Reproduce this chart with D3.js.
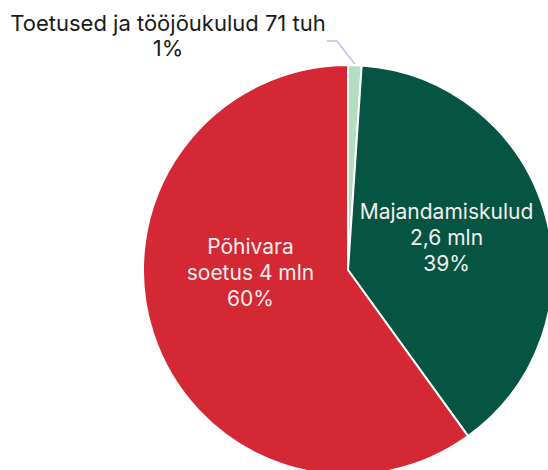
<!DOCTYPE html>
<html>
<head>
<meta charset="utf-8">
<script src="https://cdn.jsdelivr.net/npm/d3@7"></script>
<style>
  html, body { margin: 0; padding: 0; background: #fff; overflow: hidden; }
  svg { display: block; font-family: Inter, "Noto Sans", sans-serif; }
</style>
</head>
<body>
<script>
// chart data
var categories = ["Toetused ja tööjõukulud", "Majandamiskulud", "Põhivara soetus"];
var values = [0.071, 2.6, 4.0];            // mln eurot
var valueLabels = ["71 tuh", "2,6 mln", "4 mln"];
var percentLabels = ["1%", "39%", "60%"];
var colors = ["#b2dfbf", "#065543", "#d42834"];

// define width and height
var w = 548;
var h = 470;
var cx = 348, cy = 270;
var radius = 205;

var svg = d3.select("body")
            .append("svg")
            .attr("width", w)
            .attr("height", h);

var dataset = categories.map(function(c, i) {
    return { name: c, value: values[i], valueLabel: valueLabels[i], pct: percentLabels[i], color: colors[i] };
});

var pie = d3.pie()
            .sort(null)
            .value(function(d) { return d.value; });

var arc = d3.arc()
            .innerRadius(0)
            .outerRadius(radius);

var arcs = pie(dataset);

var g = svg.append("g")
           .attr("transform", "translate(" + cx + "," + cy + ")");

g.selectAll("path")
 .data(arcs)
 .enter()
 .append("path")
 .attr("d", arc)
 .attr("fill", function(d) { return d.data.color; })
 .attr("stroke", "#fff")
 .attr("stroke-width", 2)
 .attr("stroke-linejoin", "round");

// inside labels: text lines per slice
var insideLines = {
    1: [categories[1], valueLabels[1], percentLabels[1]],
    2: ["Põhivara", "soetus " + valueLabels[2], percentLabels[2]]
};
// label placement: radius fraction and nudges (layout only)
var labelArc = d3.arc().innerRadius(radius * 0.5).outerRadius(radius * 0.5);
var nudge = { 1: [0, -4], 2: [0, -29] };

var lineH = 26;
Object.keys(insideLines).forEach(function(k) {
    var a = arcs[k];
    var c = labelArc.centroid(a);
    var lines = insideLines[k];
    var t = g.append("text")
             .attr("text-anchor", "middle")
             .attr("fill", "#f3efec")
             .style("font-size", "21px");
    lines.forEach(function(l, i) {
        t.append("tspan")
         .attr("x", c[0] + nudge[k][0])
         .attr("y", c[1] + nudge[k][1] + (i - (lines.length - 1) / 2) * lineH)
         .attr("dy", "0.35em")
         .text(l);
    });
});

// outside label for the small slice with a leader line
var small = arcs[0];
var midA = (small.startAngle + small.endAngle) / 2;
var edge = [Math.sin(midA) * (radius + 1), -Math.cos(midA) * (radius + 1)];
var elbow = [edge[0] - 18, -radius - 24];
var lineEnd = [elbow[0] - 10, elbow[1]];

g.append("polyline")
 .attr("points", [edge, elbow, lineEnd].map(function(p) { return p.join(","); }).join(" "))
 .attr("fill", "none")
 .attr("stroke", "#b6c1e6")
 .attr("stroke-width", 1.5);

var outer = svg.append("text")
               .attr("text-anchor", "middle")
               .attr("fill", "#1a1a1a")
               .style("font-size", "22px");
var ox = 168;
outer.append("tspan").attr("x", ox).attr("y", 23).attr("dy", "0.35em")
     .text(categories[0] + " " + valueLabels[0]);
outer.append("tspan").attr("x", ox).attr("y", 48).attr("dy", "0.35em")
     .text(percentLabels[0]);
</script>
</body>
</html>
